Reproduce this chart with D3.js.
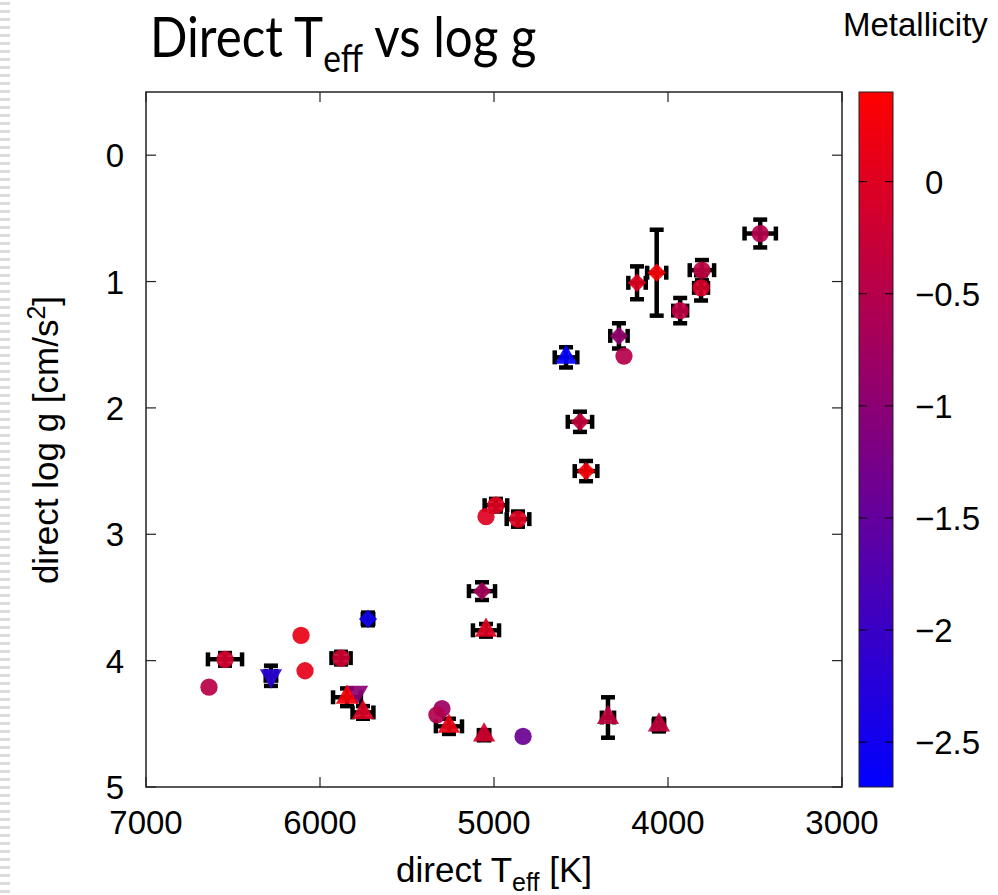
<!DOCTYPE html>
<html>
<head>
<meta charset="utf-8">
<script src="https://cdn.jsdelivr.net/npm/d3@7"></script>
<style>
  body { margin: 0; background: #fff; }
  svg { display: block; }
  text { fill: #000; }
</style>
</head>
<body>
<script>
// stars: effective temperature, surface gravity, errors, metallicity, marker
var teff    = [3470, 4065, 4178, 3805, 3810, 3930, 4282, 4253, 4586, 4506, 4471, 4989, 5046, 4862, 5069, 5046, 5724,
               6546, 6109, 6086, 6638, 6282, 5879, 5787, 5845, 5753, 5299, 5328, 5259, 5057, 4833, 4345, 4052];
var logg    = [0.62, 0.93, 1.01, 0.91, 1.05, 1.23, 1.43, 1.59, 1.60, 2.11, 2.50, 2.77, 2.86, 2.88, 3.45, 3.76, 3.67,
               3.99, 3.80, 4.08, 4.21, 4.12, 3.98, 4.25, 4.29, 4.41, 4.38, 4.43, 4.52, 4.59, 4.60, 4.45, 4.51];
var teffErr = [90, 55, 50, 70, 40, 40, 50, 0, 65, 70, 65, 65, 0, 65, 75, 75, 30,
               98, 0, 0, 0, 30, 55, 0, 80, 60, 0, 0, 75, 30, 0, 35, 30];
var loggErr = [0.11, 0.34, 0.13, 0.08, 0.10, 0.10, 0.10, 0, 0.08, 0.08, 0.08, 0.05, 0, 0.06, 0.07, 0.05, 0.05,
               0.05, 0, 0, 0, 0.08, 0.05, 0, 0.07, 0.05, 0, 0, 0.06, 0.04, 0, 0.16, 0.05];
var feh     = [-0.5, 0.3, 0.0, -0.4, -0.1, -0.4, -0.9, -0.5, -2.65, -0.3, 0.3, 0, 0, 0, -0.7, 0, -2.5,
               -0.15, 0.15, 0.1, -0.45, -2.2, -0.2, -1.0, 0.3, -0.05, -0.8, -0.55, 0.15, -0.15, -1.4, -0.35, -0.35];
var shapes  = ['c','d','d','c','c','c','d','c','t','d','d','c','c','c','d','t','d',
               'c','c','c','c','v','c','v','t','t','c','c','t','t','c','t','t'];

var xTicks = [7000, 6000, 5000, 4000, 3000];
var yTicks = [0, 1, 2, 3, 4, 5];
var cTicks = [0, -0.5, -1, -1.5, -2, -2.5];

var width = 998, height = 895;
var m = {left: 146, right: 842, top: 92, bottom: 787};

var svg = d3.select('body').append('svg')
  .attr('width', width)
  .attr('height', height);

// slide border decoration on the left
var dashY = d3.range(2, height, 8);
svg.append('g').selectAll('rect')
  .data(dashY)
  .enter().append('rect')
  .attr('x', 0).attr('y', function(d) { return d; })
  .attr('width', 10).attr('height', 3)
  .attr('fill', '#dcdcdc');

var x = d3.scaleLinear().domain([7000, 3000]).range([m.left, m.right]);
var y = d3.scaleLinear().domain([-0.5, 5]).range([m.top, m.bottom]);
var color = d3.scaleLinear().domain([-2.7, 0.4]).range(['#0000ff', '#ff0000']);

var font = 'Liberation Sans, Arial, sans-serif';

// frame
svg.append('rect')
  .attr('x', m.left).attr('y', m.top)
  .attr('width', m.right - m.left).attr('height', m.bottom - m.top)
  .attr('fill', 'none').attr('stroke', '#222').attr('stroke-width', 1.5);

var tl = 10;
var ticks = svg.append('g').attr('stroke', '#222').attr('stroke-width', 1.2);
xTicks.forEach(function(t) {
  ticks.append('line').attr('x1', x(t)).attr('x2', x(t)).attr('y1', m.bottom).attr('y2', m.bottom - tl);
  ticks.append('line').attr('x1', x(t)).attr('x2', x(t)).attr('y1', m.top).attr('y2', m.top + tl);
});
yTicks.forEach(function(t) {
  ticks.append('line').attr('y1', y(t)).attr('y2', y(t)).attr('x1', m.left).attr('x2', m.left + tl);
  ticks.append('line').attr('y1', y(t)).attr('y2', y(t)).attr('x1', m.right).attr('x2', m.right - tl);
});

svg.append('g').selectAll('text')
  .data(xTicks)
  .enter().append('text')
  .attr('x', function(d) { return x(d); })
  .attr('y', 834)
  .attr('text-anchor', 'middle')
  .style('font-family', font).style('font-size', '33px')
  .text(function(d) { return d; });

svg.append('g').selectAll('text')
  .data(yTicks)
  .enter().append('text')
  .attr('x', 124)
  .attr('y', function(d) { return y(d) + 12; })
  .attr('text-anchor', 'end')
  .style('font-family', font).style('font-size', '33px')
  .text(function(d) { return d; });

// axis titles
var xl = svg.append('text')
  .attr('x', 494).attr('y', 882)
  .attr('text-anchor', 'middle')
  .style('font-family', font).style('font-size', '35px');
xl.append('tspan').text('direct T');
xl.append('tspan').attr('dy', 9).style('font-size', '25px').text('eff');
xl.append('tspan').attr('dy', -9).text(' [K]');

var yl = svg.append('text')
  .attr('transform', 'translate(58,440) rotate(-90)')
  .attr('text-anchor', 'middle')
  .style('font-family', font).style('font-size', '35px');
yl.append('tspan').text('direct log g [cm/s');
yl.append('tspan').attr('dy', -13).style('font-size', '25px').text('2');
yl.append('tspan').attr('dy', 13).text(']');

// title
var title = svg.append('text')
  .attr('transform', 'translate(150,57) scale(0.88,1)')
  .style('font-family', 'Lato, sans-serif').style('font-size', '56px');
title.append('tspan').text('Direct T');
title.append('tspan').attr('dy', 15).style('font-size', '38px').text('eff');
title.append('tspan').attr('dy', -15).text(' vs log g');

// error bars
var idx = d3.range(teff.length);
var cap = 7;
var eb = svg.append('g').attr('stroke', '#000').attr('stroke-width', 4.5);
idx.forEach(function(i) {
  var cx = x(teff[i]), cy = y(logg[i]);
  if (loggErr[i] > 0) {
    var y0 = y(logg[i] - loggErr[i]), y1 = y(logg[i] + loggErr[i]);
    eb.append('line').attr('x1', cx).attr('x2', cx).attr('y1', y0).attr('y2', y1);
    eb.append('line').attr('x1', cx - cap).attr('x2', cx + cap).attr('y1', y0).attr('y2', y0);
    eb.append('line').attr('x1', cx - cap).attr('x2', cx + cap).attr('y1', y1).attr('y2', y1);
  }
  if (teffErr[i] > 0) {
    var x0 = x(teff[i] - teffErr[i]), x1 = x(teff[i] + teffErr[i]);
    eb.append('line').attr('y1', cy).attr('y2', cy).attr('x1', x0).attr('x2', x1);
    eb.append('line').attr('y1', cy - cap).attr('y2', cy + cap).attr('x1', x0).attr('x2', x0);
    eb.append('line').attr('y1', cy - cap).attr('y2', cy + cap).attr('x1', x1).attr('x2', x1);
  }
});

// markers
var sym = {
  c: {type: d3.symbolCircle, size: 235, rot: 0},
  t: {type: d3.symbolTriangle, size: 215, rot: 0},
  v: {type: d3.symbolTriangle, size: 215, rot: 180},
  d: {type: d3.symbolSquare, size: 165, rot: 45}
};
svg.append('g').selectAll('path')
  .data(idx)
  .enter().append('path')
  .attr('d', function(i) { return d3.symbol().type(sym[shapes[i]].type).size(sym[shapes[i]].size)(); })
  .attr('transform', function(i) {
    return 'translate(' + x(teff[i]) + ',' + y(logg[i]) + ') rotate(' + sym[shapes[i]].rot + ')';
  })
  .attr('fill', function(i) { return color(feh[i]); })
  .attr('fill-opacity', 0.92);

// colour bar
var cb = {x: 859, w: 34};
var cy = d3.scaleLinear().domain(color.domain()).range([m.bottom, m.top]);
var grad = svg.append('defs').append('linearGradient')
  .attr('id', 'cbar').attr('x1', 0).attr('x2', 0).attr('y1', 1).attr('y2', 0);
grad.append('stop').attr('offset', 0).attr('stop-color', color(-2.7));
grad.append('stop').attr('offset', 1).attr('stop-color', color(0.4));
svg.append('rect')
  .attr('x', cb.x).attr('y', m.top).attr('width', cb.w).attr('height', m.bottom - m.top)
  .attr('fill', 'url(#cbar)').attr('stroke', '#222').attr('stroke-width', 1);

var ct = svg.append('g').attr('stroke', '#000').attr('stroke-width', 1);
cTicks.forEach(function(t) {
  ct.append('line').attr('x1', cb.x).attr('x2', cb.x + 8).attr('y1', cy(t)).attr('y2', cy(t));
  ct.append('line').attr('x1', cb.x + cb.w - 8).attr('x2', cb.x + cb.w).attr('y1', cy(t)).attr('y2', cy(t));
});
svg.append('g').selectAll('text')
  .data(cTicks)
  .enter().append('text')
  .attr('x', function(d) { return d === 0 ? 925 : 915; })
  .attr('y', function(d) { return cy(d) + 12; })
  .style('font-family', font).style('font-size', '33px')
  .text(function(d) { return d === 0 ? '0' : '\u2212' + Math.abs(d); });

svg.append('text')
  .attr('x', 843).attr('y', 36)
  .style('font-family', font).style('font-size', '33px')
  .text('Metallicity');
</script>
</body>
</html>
